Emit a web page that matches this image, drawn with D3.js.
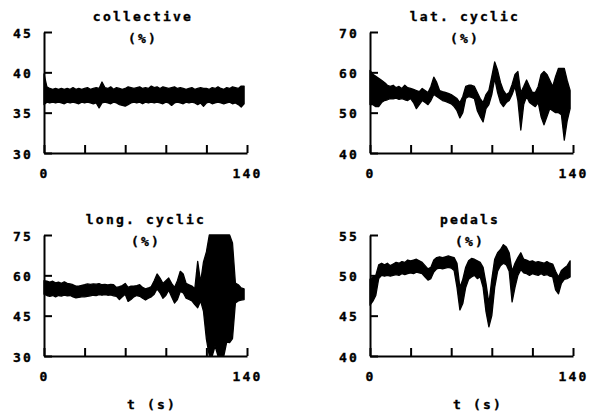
<!DOCTYPE html>
<html>
<head>
<meta charset="utf-8">
<script src="https://cdn.jsdelivr.net/npm/d3@7"></script>
<style>
  body { margin: 0; background: #fff; }
  svg { display: block; }
  .lbl { font-family: "DejaVu Sans Mono", monospace; font-weight: bold; font-size: 13px; letter-spacing: 2.2px; fill: #000; stroke: #000; stroke-width: 0.35px; }
</style>
</head>
<body>
<svg id="chart" width="594" height="418"></svg>
<script>
// time base: one sample every 2 s
var times = d3.range(0, 140, 2);

// collective (%) - lower / upper edge of the trace
var collLo = [36.0,36.3,36.2,36.3,36.2,36.3,36.2,36.1,36.3,36.2,36.3,36.2,36.1,36.3,36.2,36.3,36.2,36.1,36.2,35.6,
  36.2,36.3,36.2,36.1,36.3,36.2,36.0,35.9,35.8,36.0,36.2,36.3,36.2,36.3,36.1,36.3,36.2,36.3,36.2,36.3,
  36.2,36.1,36.3,36.2,35.9,36.2,36.3,36.2,36.1,36.3,36.2,36.3,36.2,36.0,36.2,35.8,36.2,36.3,36.1,36.2,
  36.3,36.2,36.1,36.2,36.3,36.1,36.2,36.0,35.7,36.1];
var collHi = [39.8,38.2,38.0,37.9,38.0,37.9,38.0,37.9,38.0,37.9,38.1,37.9,38.0,37.9,38.0,38.1,37.9,38.0,38.1,38.0,
  38.8,38.1,38.0,38.2,37.9,38.1,38.0,37.9,38.0,38.2,38.1,38.0,38.1,38.2,38.0,38.1,38.0,38.3,38.1,38.2,
  38.0,38.2,38.1,38.0,38.1,38.2,38.0,38.1,38.0,37.9,38.0,38.1,37.9,38.0,38.1,38.0,38.0,37.9,38.1,38.0,
  38.2,38.0,37.9,38.1,38.0,38.2,38.1,38.0,38.3,38.3];

// lat. cyclic (%)
var latLo = [52.0,52.0,51.5,51.5,52.5,53.0,53.2,53.5,53.4,53.6,53.3,53.5,53.2,53.0,53.5,52.5,51.0,52.0,53.0,52.5,
  52.0,53.0,54.5,54.0,53.5,53.0,52.8,52.5,52.2,51.5,50.5,48.7,50.0,53.5,54.0,53.8,53.5,50.5,49.0,47.7,
  51.0,52.0,54.5,58.5,55.0,52.5,51.5,52.5,53.0,54.5,56.5,53.0,45.7,52.0,54.0,52.5,52.0,51.5,52.5,49.0,
  47.0,49.0,51.0,50.5,50.0,50.0,49.5,43.2,48.0,51.0];
var latHi = [60.5,59.5,59.0,58.5,58.0,57.5,56.8,56.5,56.8,56.2,56.5,56.0,56.8,56.2,56.0,55.8,55.5,55.2,56.0,55.5,
  55.0,56.5,58.8,57.5,55.5,55.2,55.0,54.8,54.5,54.0,53.5,52.5,54.0,56.5,56.8,56.8,56.5,55.0,53.5,52.5,
  54.5,55.5,59.0,62.6,60.5,57.5,55.5,54.5,55.0,57.0,59.5,60.2,55.0,56.5,58.1,56.5,55.0,55.0,56.5,59.5,
  60.2,59.5,58.0,56.5,59.0,61.0,61.0,61.0,58.0,55.5];

// long. cyclic (%)
var lonLo = [53.0,52.5,52.2,52.5,52.0,52.5,52.3,52.6,52.4,52.5,52.0,51.6,51.8,52.0,52.0,52.2,52.4,52.6,52.5,52.8,
  52.6,52.8,52.6,52.7,52.4,52.2,51.0,52.0,53.0,50.3,51.0,52.0,52.5,52.2,51.5,50.8,51.5,52.0,53.0,55.0,
  53.5,51.5,52.5,54.5,52.0,49.7,51.0,54.0,53.5,51.5,51.0,50.5,49.1,47.9,50.5,46.6,36.3,30.0,30.0,33.7,
  30.0,30.0,30.0,35.2,35.0,36.5,49.7,50.5,50.8,51.0];
var lonHi = [58.0,57.8,57.5,57.8,57.2,57.5,57.0,57.6,57.0,56.8,56.5,56.0,56.0,56.3,56.5,56.8,56.6,56.8,56.7,56.9,
  56.5,56.6,56.4,56.6,56.5,55.5,55.8,56.2,57.0,55.5,56.0,56.0,56.2,56.5,55.5,55.0,55.3,55.8,58.0,60.5,
  59.0,57.0,58.0,59.0,57.0,55.5,58.0,61.5,60.5,57.0,56.5,56.0,55.0,65.2,57.5,65.0,68.7,75.0,75.0,75.0,
  75.0,75.0,75.0,75.0,75.0,72.0,57.1,56.5,55.3,55.0];

// pedals (%)
var pedLo = [46.3,46.8,47.5,49.6,50.0,49.9,50.0,49.9,50.0,50.1,50.0,50.2,50.1,50.2,50.3,50.2,50.4,50.3,50.2,49.8,
  49.4,49.6,50.4,50.8,50.9,50.8,50.9,51.0,50.9,50.6,48.5,45.7,46.5,48.5,49.5,49.8,50.0,49.6,49.8,48.5,
  45.5,43.6,45.0,48.5,50.5,51.2,51.5,51.3,50.5,46.7,48.5,50.0,50.7,50.3,50.2,50.0,50.2,50.1,50.0,50.2,
  50.0,50.1,49.9,49.8,48.2,47.7,49.0,49.5,49.6,49.8];
var pedHi = [49.5,49.8,50.0,51.3,51.5,51.3,51.5,51.2,51.4,51.6,51.5,51.7,51.6,51.9,51.8,51.9,52.0,51.8,51.6,51.2,
  50.8,51.0,51.9,52.2,52.3,52.2,52.3,52.4,52.3,52.2,51.5,48.5,49.5,51.0,51.8,52.1,52.0,51.8,51.6,51.0,
  49.0,46.5,49.5,52.0,52.8,53.2,53.8,53.5,52.8,50.5,51.5,52.2,52.8,52.0,51.9,51.7,51.8,51.6,51.7,51.6,
  51.5,51.7,51.5,51.4,50.5,49.8,50.6,50.9,51.2,51.8];

var xTicks = [0, 28, 56, 84, 112, 140];

var panels = [
  {title: 'collective', lo: collLo, hi: collHi, yTicks: [30, 35, 40, 45], left: 44, top: 32, tx: 143, xlabel: false},
  {title: 'lat. cyclic', lo: latLo, hi: latHi, yTicks: [40, 50, 60, 70], left: 370, top: 32, tx: 465, xlabel: false},
  {title: 'long. cyclic', lo: lonLo, hi: lonHi, yTicks: [30, 45, 60, 75], left: 44, top: 235, tx: 146, xlabel: true},
  {title: 'pedals', lo: pedLo, hi: pedHi, yTicks: [40, 45, 50, 55], left: 370, top: 235, tx: 470, xlabel: true}
];

var pw = 203, ph = 121;
var svg = d3.select('#chart');

panels.forEach(function(p){

  var g = svg.append('g').attr('transform', 'translate(' + p.left + ',' + p.top + ')');

  var x = d3.scaleLinear().domain([0, 140]).range([0, pw]);
  var y = d3.scaleLinear().domain([p.yTicks[0], p.yTicks[3]]).range([ph, 0]);

  var rows = times.map(function(t, i){ return {t: t, lo: p.lo[i], hi: p.hi[i]}; });

  var band = d3.area()
    .x(function(d){ return x(d.t); })
    .y0(function(d){ return y(d.lo); })
    .y1(function(d){ return y(d.hi); })
    .curve(d3.curveLinear);

  g.append('path')
    .datum(rows)
    .attr('d', band)
    .attr('fill', '#000')
    .attr('stroke', '#000')
    .attr('stroke-width', 1.3)
    .attr('stroke-linejoin', 'round');

  // axes, ticks pointing inward
  var yAxis = d3.axisLeft(y).tickValues(p.yTicks).tickSizeInner(-8).tickSizeOuter(0).tickPadding(11);
  var xAxis = d3.axisBottom(x).tickValues(xTicks).tickSizeInner(-8).tickSizeOuter(0).tickPadding(16)
    .tickFormat(function(d){ return (d === 0 || d === 140) ? String(d) : ''; });

  var ya = g.append('g').call(yAxis);
  var xa = g.append('g').attr('transform', 'translate(0,' + ph + ')').call(xAxis);

  [ya, xa].forEach(function(a){
    a.attr('font-family', null).attr('font-size', null);
    a.selectAll('path, line').attr('stroke', '#000').attr('stroke-width', 2);
    a.selectAll('text').attr('class', 'lbl').attr('fill', '#000');
  });
  ya.selectAll('text').attr('dy', '0.4em');

  // titles
  svg.append('text').attr('class', 'lbl')
    .attr('x', p.tx).attr('y', p.top - 11)
    .attr('text-anchor', 'middle')
    .text(p.title);

  svg.append('text').attr('class', 'lbl')
    .attr('x', p.tx).attr('y', p.top + 11)
    .attr('text-anchor', 'middle')
    .text('(%)');

  if (p.xlabel){
    svg.append('text').attr('class', 'lbl')
      .attr('x', p.left + 108).attr('y', 409)
      .attr('text-anchor', 'middle')
      .text('t (s)');
  }

});
</script>
</body>
</html>
